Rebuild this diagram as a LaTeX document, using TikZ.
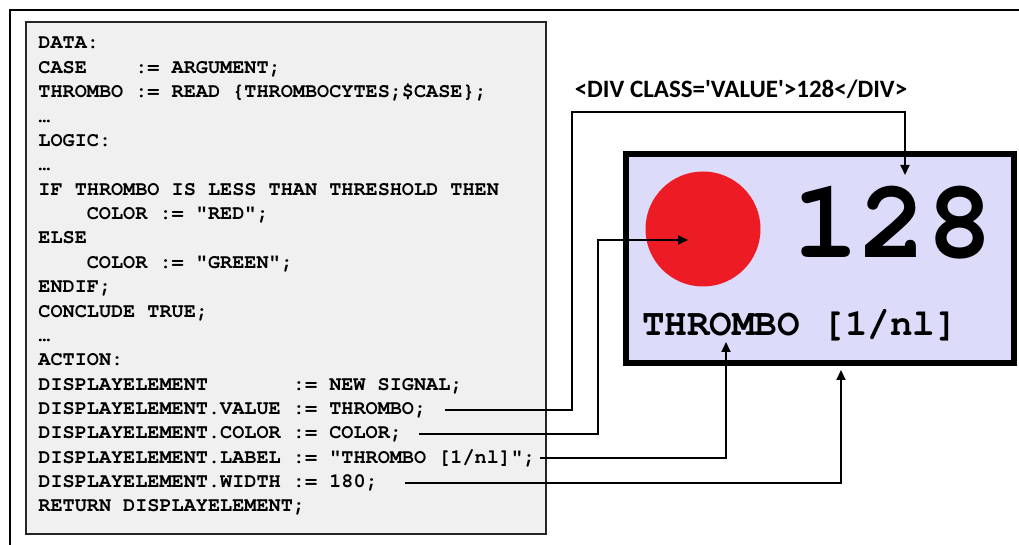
\documentclass[tikz,border=0pt]{standalone}
\usepackage{fontspec}
\setmonofont{TeX Gyre Cursor}
\newfontfamily\labelfont{Carlito}
\usetikzlibrary{arrows.meta}
\definecolor{codegray}{RGB}{240,240,240}
\definecolor{displayblue}{RGB}{220,220,250}
\definecolor{dotred}{RGB}{237,28,36}

\begin{document}
\begin{tikzpicture}[x=0.5pt,y=-0.5pt,
  line/.style={anchor=base west,inner sep=0pt,text height=7pt,text depth=2pt,
    font=\ttfamily\bfseries\fontsize{10.1}{12}\selectfont\frenchspacing},
  link/.style={line width=1pt,-{Triangle[length=5pt,width=4.5pt]}}]
  \useasboundingbox (0,0) rectangle (1019,545);
  \draw[line width=1pt] (1019,10) -| (10,545);
  \node(code)[draw=black!85,fill=codegray,line width=1.3pt,minimum width=260pt,minimum height=256pt] at (286,278){};
  \node(0)[line] at (38,49){DATA:};
  \node(1)[line] at (38,73.4){CASE~~~~:= ARGUMENT;};
  \node(2)[line] at (38,97.7){THROMBO := READ \{THROMBOCYTES;\$CASE\};};
  \node(3)[line] at (38,122.1){…};
  \node(4)[line] at (38,146.5){LOGIC:};
  \node(5)[line] at (38,170.9){…};
  \node(6)[line] at (38,195.2){IF THROMBO IS LESS THAN THRESHOLD THEN};
  \node(7)[line] at (38,219.6){~~~~COLOR := "RED";};
  \node(8)[line] at (38,244){ELSE};
  \node(9)[line] at (38,268.3){~~~~COLOR := "GREEN";};
  \node(10)[line] at (38,292.7){ENDIF;};
  \node(11)[line] at (38,317.1){CONCLUDE TRUE;};
  \node(12)[line] at (38,341.4){…};
  \node(13)[line] at (38,365.8){ACTION:};
  \node(14)[line] at (38,390.2){DISPLAYELEMENT~~~~~~~:= NEW SIGNAL;};
  \node(15)[line] at (38,414.6){DISPLAYELEMENT.VALUE := THROMBO;};
  \node(16)[line] at (38,438.9){DISPLAYELEMENT.COLOR := COLOR;};
  \node(17)[line] at (38,463.3){DISPLAYELEMENT.LABEL := "THROMBO [1/nl]";};
  \node(18)[line] at (38,487.7){DISPLAYELEMENT.WIDTH := 180;};
  \node(19)[line] at (38,512){RETURN DISPLAYELEMENT;};
  \node(disp)[draw,line width=3pt,fill=displayblue,minimum width=194pt,minimum height=104.5pt] at (820,258.5){};
  \node(dot)[circle,fill=dotred,minimum size=57.5pt,inner sep=0pt] at (703,229){};
  \node(num)[font=\ttfamily\bfseries\fontsize{56}{56}\selectfont,inner sep=0pt] at (893,223){128};
  \node(lab)[font=\ttfamily\bfseries\fontsize{18.8}{20}\selectfont,inner sep=0pt] at (800,325){THROMBO [1/nl]};
  \node(div)[font=\labelfont\bfseries\fontsize{12.5}{14}\selectfont,inner sep=0pt] at (741,89){<DIV CLASS=\textquotesingle VALUE\textquotesingle>128</DIV>};
  \coordinate(t0) at (905,175);
  \coordinate(t1) at (688,240);
  \coordinate(t2) at (726,342);
  \coordinate(t3) at (841,370);
  \draw[link] ([xshift=9pt]15.east) -| (572,112) -| (t0);
  \draw[link] ([xshift=8.5pt]16.east) -| (598,240) -- (t1);
  \draw[link] ([xshift=2pt]17.east) -| (t2);
  \draw[link] ([xshift=13.5pt]18.east) -| (t3);
\end{tikzpicture}
\end{document}
